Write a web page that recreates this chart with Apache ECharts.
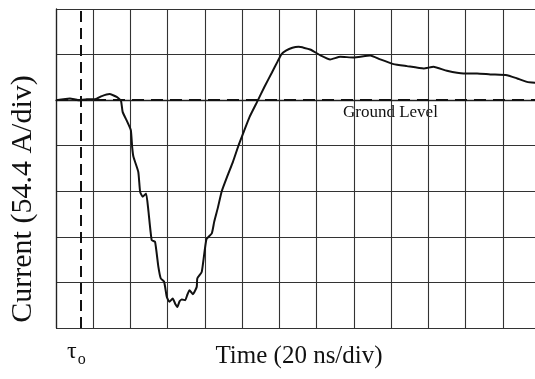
<!DOCTYPE html>
<html>
<head>
<meta charset="utf-8">
<script src="https://cdn.jsdelivr.net/npm/echarts@6/dist/echarts.min.js"></script>
<style>
  html, body { margin: 0; padding: 0; background: #fff; }
  #main { width: 535px; height: 379px; }
</style>
</head>
<body>
<div id="main"></div>
<script>
// scope trace, 20 ns/div horizontally, 54.4 A/div vertically
var timeNs = [0, 7.5, 12, 16.5, 21, 24.6, 28.7, 32.6, 34.9, 35.8, 38.3, 40.2, 40.9, 41.6, 44.2,
  45.2, 46.6, 48.4, 49.6, 51.4, 53.2, 55, 56.3, 58.1, 59.5, 60.9, 62.7, 64, 65.2, 66.4, 67.6,
  69.4, 70.6, 71.7, 73.5, 75.6, 75.9, 78.3, 80.8, 83.7, 85, 87, 89, 92, 95, 98, 101, 104,
  108.5, 112, 116, 119, 121, 123.5, 127, 130.3, 136.5, 141.9, 147.3, 152.7, 159.8, 168.8,
  174.2, 181.3, 188.5, 197.5, 202.8, 210, 219, 226.2, 233.3, 242.3, 247.7, 253, 257.5];
var currentA = [0, 2.0, 0, 1.2, 1.2, 4.8, 7.2, 4.0, -0.8, -14, -25.9, -35.8, -55.7, -67.7, -85.6,
  -109.5, -115.4, -111.4, -131.3, -167.1, -169.1, -199, -212.9, -216.9, -234.8, -240.8, -236.7,
  -243, -246.8, -240, -237.9, -238.8, -232, -226.8, -231.6, -222.9, -212.9, -205, -166, -159,
  -145, -128, -109, -91, -74, -54.4, -37, -20, 0, 16, 33, 46, 54.4, 59, 62.5, 63.6, 60.5,
  53.7, 48.6, 51.7, 51.0, 53.4, 48.6, 43.0, 40.6, 37.8, 39.8, 35.0, 31.9, 31.9, 30.7, 29.8,
  25.9, 21.8, 20.7];
var tau0 = 13.4;
var groundLevel = 0;

var chart = echarts.init(document.getElementById('main'));
var serif = '"Liberation Serif", "DejaVu Serif", serif';

chart.setOption({
  animation: false,
  grid: { left: 56, right: -5, top: 9, bottom: 51, outerBoundsMode: 'none' },
  xAxis: {
    type: 'value', min: 0, max: 260, interval: 20,
    axisLine: { show: true, lineStyle: { color: '#222', width: 1.3 } },
    axisTick: { show: false },
    axisLabel: { show: false },
    splitLine: { show: true, lineStyle: { color: '#333', width: 1.1 } }
  },
  yAxis: {
    type: 'value', min: -272, max: 108.8, interval: 54.4,
    axisLine: { show: true, onZero: false, lineStyle: { color: '#222', width: 1.3 } },
    axisTick: { show: false },
    axisLabel: { show: false },
    splitLine: { show: true, lineStyle: { color: '#333', width: 1.1 } }
  },
  graphic: [
    {
      type: 'text', left: 343, top: 104,
      style: { text: 'Ground Level', font: '17px ' + serif, fill: '#111' }
    },
    {
      type: 'text', x: 299, y: 344,
      style: {
        text: 'Time (20 ns/div)', font: '25px ' + serif, fill: '#111',
        align: 'center', verticalAlign: 'top'
      }
    },
    {
      type: 'text', x: 8, y: 199, rotation: Math.PI / 2,
      style: {
        text: 'Current (54.4 A/div)', font: '30px ' + serif, fill: '#111',
        align: 'center', verticalAlign: 'top'
      }
    },
    {
      type: 'text', left: 67, top: 340,
      style: {
        text: '{t|τ}{s|o}',
        rich: {
          t: { font: '24px ' + serif, fill: '#111' },
          s: { font: '16px ' + serif, fill: '#111', padding: [16, 0, 0, 1] }
        }
      }
    }
  ],
  series: [{
    type: 'line',
    data: timeNs.map(function (t, i) { return [t, currentA[i]]; }),
    showSymbol: false,
    smooth: 0.15,
    lineStyle: { color: '#111', width: 2 },
    markLine: {
      silent: true,
      symbol: ['none', 'none'],
      label: { show: false },
      data: [
        { yAxis: groundLevel, lineStyle: { color: '#111', width: 2, type: [12, 7] } },
        { xAxis: tau0, lineStyle: { color: '#111', width: 2, type: [11, 6] } }
      ]
    }
  }]
});
</script>
</body>
</html>
